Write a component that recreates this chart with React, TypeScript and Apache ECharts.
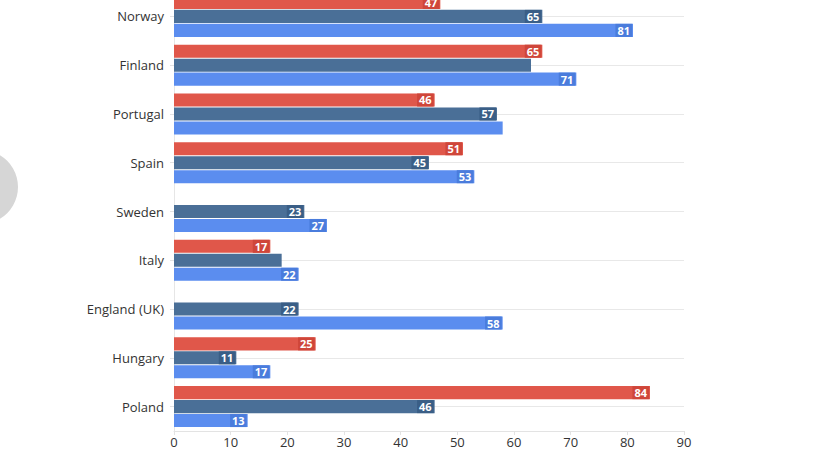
import React, { useEffect, useRef } from "react";
import * as echarts from "echarts";

// Countries, listed bottom to top along the category axis
const categories = [
  "Poland",
  "Hungary",
  "England (UK)",
  "Italy",
  "Sweden",
  "Spain",
  "Portugal",
  "Finland",
  "Norway",
];

const redValues: (number | null)[] = [84, 25, null, 17, null, 51, 46, 65, 47];
const darkBlueValues: (number | null)[] = [46, 11, 22, 19, 23, 45, 57, 63, 65];
const lightBlueValues: (number | null)[] = [13, 17, 58, 22, 27, 53, 58, 71, 81];

// Bars that carry no value tag
const darkBlueUnlabelled = ["Italy", "Finland"];
const lightBlueUnlabelled = ["Portugal"];
const redUnlabelled: string[] = [];

const xTicks = [0, 10, 20, 30, 40, 50, 60, 70, 80, 90];

const FONT = "'Open Sans', 'Noto Sans', sans-serif";

function barData(values: (number | null)[], unlabelled: string[]) {
  return values.map((v, i) =>
    unlabelled.includes(categories[i])
      ? { value: v, label: { show: false } }
      : { value: v }
  );
}

function barSeries(
  name: string,
  values: (number | null)[],
  unlabelled: string[],
  color: string,
  tagColor: string
) {
  return {
    name,
    type: "bar",
    z: 3,
    barGap: "7%",
    barCategoryGap: "16%",
    itemStyle: { color },
    label: {
      show: true,
      position: "insideRight",
      distance: 1,
      color: "#ffffff",
      fontFamily: FONT,
      fontWeight: "bold",
      fontSize: 11,
      backgroundColor: tagColor,
      padding: [1, 2, 0, 2],
      lineHeight: 12,
    },
    data: barData(values, unlabelled),
  };
}

export default function App() {
  const ref = useRef<HTMLDivElement>(null);

  useEffect(() => {
    if (!ref.current) return;
    const chart = echarts.init(ref.current, null, { renderer: "svg" });
    chart.setOption({
      animation: false,
      backgroundColor: "#ffffff",
      grid: { left: 174, right: 141, top: 0, bottom: 19 },
      xAxis: {
        type: "value",
        min: xTicks[0],
        max: xTicks[xTicks.length - 1],
        interval: 10,
        axisLine: { show: true, lineStyle: { color: "#e3e3e3" } },
        axisTick: { show: true, length: 4, lineStyle: { color: "#e3e3e3" } },
        axisLabel: { color: "#333333", fontFamily: FONT, fontSize: 13, margin: 5, lineHeight: 12 },
        splitLine: { show: false },
      },
      yAxis: {
        type: "category",
        data: categories,
        axisLine: { show: true, lineStyle: { color: "#e6e6e6" } },
        axisTick: { show: true, alignWithLabel: true, length: 4, lineStyle: { color: "#e3e3e3" } },
        axisLabel: { color: "#333333", fontFamily: FONT, fontSize: 13, margin: 10 },
        splitLine: { show: false },
      },
      graphic: [
        {
          type: "circle",
          shape: { cx: -19, cy: 195, r: 37 },
          style: { fill: "#d6d6d6" },
          z: 0,
        },
      ],
      series: [
        // guide lines through each category, drawn beneath the bars
        {
          type: "line",
          z: 1,
          data: [],
          silent: true,
          markLine: {
            z: 1,
            silent: true,
            symbol: "none",
            label: { show: false },
            lineStyle: { color: "#e8e8e8", type: "solid", width: 1 },
            data: categories.map((c) => ({ yAxis: c })),
          },
        },
        barSeries("A", redValues, redUnlabelled, "#e0574a", "#cf463a"),
        barSeries("B", darkBlueValues, darkBlueUnlabelled, "#4a6f97", "#3a5e86"),
        barSeries("C", lightBlueValues, lightBlueUnlabelled, "#5b8def", "#4a7cdc"),
      ],
    });
    return () => chart.dispose();
  }, []);

  return (
    <div
      ref={ref}
      style={{ position: "absolute", left: 0, top: -8, width: 825, height: 458 }}
    />
  );
}
